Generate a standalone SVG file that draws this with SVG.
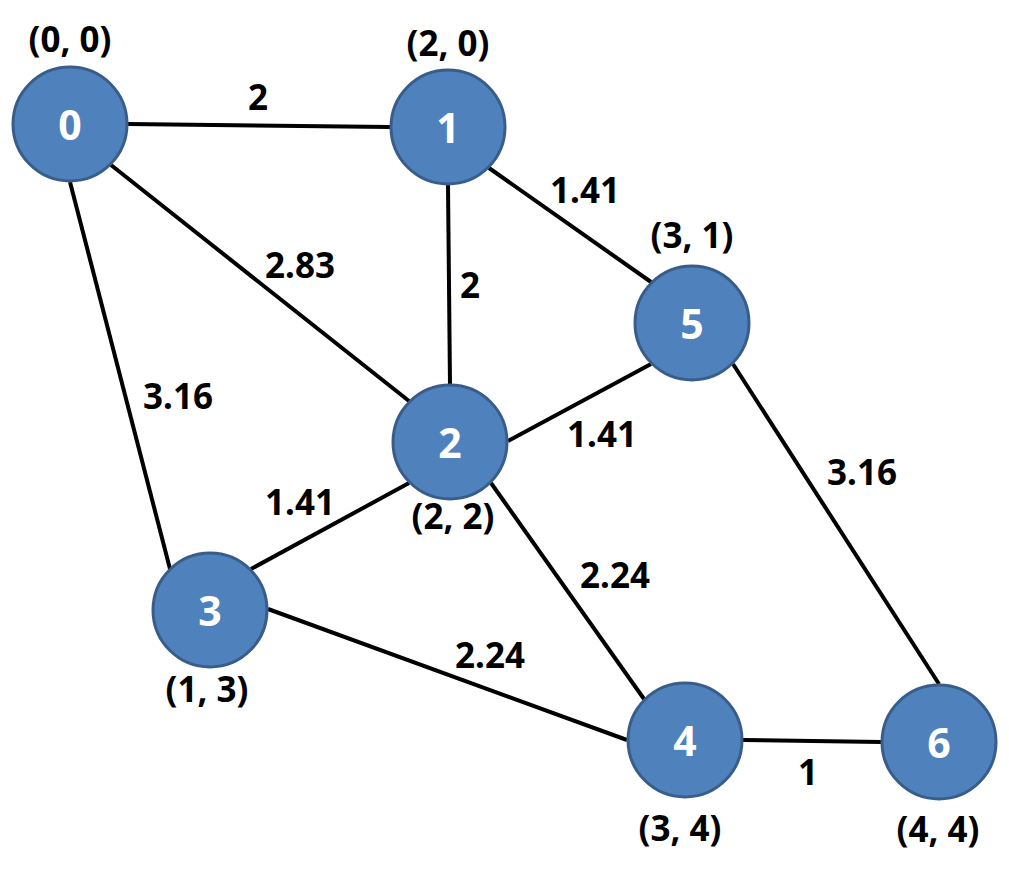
<svg xmlns="http://www.w3.org/2000/svg" width="1009" height="875" viewBox="0 0 1009 875">
<style>
.e{stroke:#000;stroke-width:4;fill:none}
.n circle{fill:#4F81BD;stroke:#385D8A;stroke-width:3}
.n text{fill:#fff;font-family:"Noto Sans","Open Sans",sans-serif;font-weight:bold;font-size:41px;text-anchor:middle;dominant-baseline:central}
.l{fill:#000;font-family:"Noto Sans","Open Sans",sans-serif;font-weight:bold;font-size:35px;text-anchor:middle;dominant-baseline:central}
</style>
<rect width="1009" height="875" fill="#fff"/>
<g id="edges">
<line class="e" x1="128" y1="124" x2="390" y2="127"/>
<line class="e" x1="111" y1="165" x2="409" y2="401"/>
<line class="e" x1="70" y1="182" x2="170" y2="569"/>
<line class="e" x1="448" y1="185" x2="450" y2="384"/>
<line class="e" x1="489" y1="168" x2="651" y2="282"/>
<line class="e" x1="508" y1="441" x2="651" y2="364"/>
<line class="e" x1="409" y1="483" x2="251" y2="569"/>
<line class="e" x1="491" y1="483" x2="644" y2="699"/>
<line class="e" x1="268" y1="609" x2="627" y2="740"/>
<line class="e" x1="743" y1="740" x2="881" y2="742"/>
<line class="e" x1="733" y1="364" x2="939" y2="684"/>
</g>
<g id="edge-labels">
<text class="l" x="258" y="96">2</text>
<text class="l" x="585" y="189">1.41</text>
<text class="l" x="300" y="264">2.83</text>
<text class="l" x="470" y="284">2</text>
<text class="l" x="178" y="395">3.16</text>
<text class="l" x="602" y="433">1.41</text>
<text class="l" x="862" y="471">3.16</text>
<text class="l" x="300" y="501">1.41</text>
<text class="l" x="615" y="574">2.24</text>
<text class="l" x="490" y="654">2.24</text>
<text class="l" x="808" y="771">1</text>
</g>
<g id="node0" class="n"><circle cx="70" cy="124" r="57"/><text x="70" y="124">0</text></g>
<g id="node1" class="n"><circle cx="448" cy="127" r="57"/><text x="448" y="127">1</text></g>
<g id="node2" class="n"><circle cx="450" cy="442" r="57"/><text x="450" y="442">2</text></g>
<g id="node3" class="n"><circle cx="210" cy="610" r="57"/><text x="210" y="610">3</text></g>
<g id="node4" class="n"><circle cx="685" cy="740" r="57"/><text x="685" y="740">4</text></g>
<g id="node5" class="n"><circle cx="692" cy="323" r="57"/><text x="692" y="323">5</text></g>
<g id="node6" class="n"><circle cx="939" cy="742" r="57"/><text x="939" y="742">6</text></g>
<g id="coords">
<text class="l" x="70" y="38">(0, 0)</text>
<text class="l" x="448" y="42">(2, 0)</text>
<text class="l" x="692" y="234">(3, 1)</text>
<text class="l" x="453" y="515">(2, 2)</text>
<text class="l" x="207" y="688">(1, 3)</text>
<text class="l" x="680" y="827">(3, 4)</text>
<text class="l" x="938" y="828">(4, 4)</text>
</g>
</svg>
